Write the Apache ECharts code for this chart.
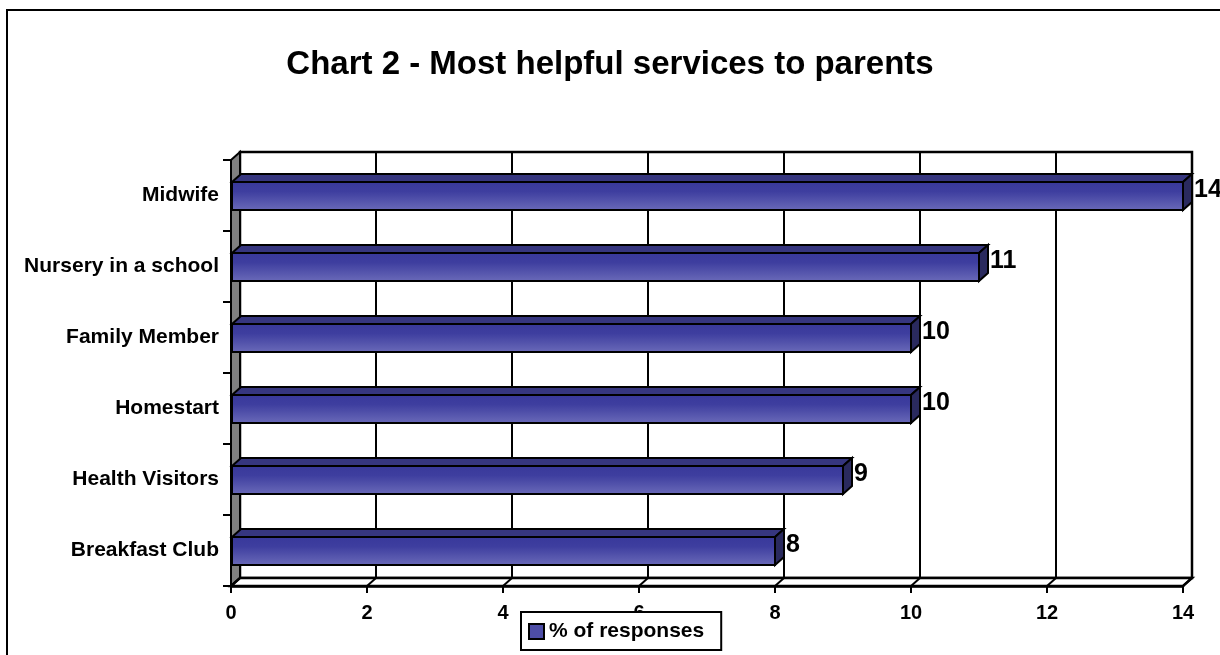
<!DOCTYPE html>
<html>
<head>
<meta charset="utf-8">
<script src="https://cdn.jsdelivr.net/npm/echarts@6/dist/echarts.min.js"></script>
<style>
html,body{margin:0;padding:0;background:#fff;}
#chart{width:1220px;height:655px;}
</style>
</head>
<body>
<div id="chart"></div>
<script>
const categories = ['Midwife', 'Nursery in a school', 'Family Member', 'Homestart', 'Health Visitors', 'Breakfast Club'];
const values = [14, 11, 10, 10, 9, 8];
const xTicks = [0, 2, 4, 6, 8, 10, 12, 14];
const seriesName = '% of responses';
const titleText = 'Chart 2 - Most helpful services to parents';

const DX = 9, DY = -8;
const FONT = 'Arial, "Liberation Sans", sans-serif';

const chart = echarts.init(document.getElementById('chart'), null, {renderer: 'canvas'});

function wallsRender(params, api) {
  const cs = params.coordSys;
  const x0 = cs.x, x1 = cs.x + cs.width, yT = cs.y, yB = cs.y + cs.height;
  const children = [];
  children.push({type: 'rect', shape: {x: x0 + DX, y: yT + DY, width: cs.width, height: cs.height},
    style: {fill: '#fff', stroke: '#000', lineWidth: 2.5}});
  xTicks.forEach(v => {
    const x = api.coord([v, 0])[0] + DX;
    children.push({type: 'line', shape: {x1: x, y1: yT + DY, x2: x, y2: yB + DY}, style: {stroke: '#000', lineWidth: 2}});
  });
  children.push({type: 'polygon', shape: {points: [[x0, yT], [x0 + DX, yT + DY], [x0 + DX, yB + DY], [x0, yB]]},
    style: {fill: '#808080', stroke: '#000', lineWidth: 2}});
  children.push({type: 'polygon', shape: {points: [[x0, yB], [x1, yB], [x1 + DX, yB + DY], [x0 + DX, yB + DY]]},
    style: {fill: '#fff', stroke: '#000', lineWidth: 2.5}});
  xTicks.forEach(v => {
    const x = api.coord([v, 0])[0];
    children.push({type: 'line', shape: {x1: x, y1: yB, x2: x + DX, y2: yB + DY}, style: {stroke: '#000', lineWidth: 2}});
  });
  return {type: 'group', children: children};
}

function barRender(params, api) {
  const v = api.value(0), idx = api.value(1);
  const c0 = api.coord([0, idx]);
  const c1 = api.coord([v, idx]);
  const cy = c0[1];
  const xa = c0[0] + 1, xb = c1[0];
  const yt = cy - 13.5, yb = cy + 14.5;
  return {type: 'group', children: [
    {type: 'polygon', shape: {points: [[xa, yt], [xb, yt], [xb + DX, yt + DY], [xa + DX, yt + DY]]},
      style: {fill: '#36367f', stroke: '#000', lineWidth: 2}},
    {type: 'polygon', shape: {points: [[xb, yt], [xb + DX, yt + DY], [xb + DX, yb + DY], [xb, yb]]},
      style: {fill: '#2a2a5e', stroke: '#000', lineWidth: 2}},
    {type: 'rect', shape: {x: xa, y: yt, width: xb - xa, height: yb - yt},
      style: {fill: new echarts.graphic.LinearGradient(0, 0, 0, 1, [
        {offset: 0, color: '#38389a'}, {offset: 0.35, color: '#3e3e9f'}, {offset: 1, color: '#6b6bb9'}]),
        stroke: '#000', lineWidth: 2}},
    {type: 'text', x: xb + DX + 2, y: cy - 5,
      style: {text: String(v), fill: '#000', font: 'bold 25px ' + FONT, align: 'left', verticalAlign: 'middle'}}
  ]};
}

const option = {
  animation: false,
  backgroundColor: '#fff',
  title: {text: titleText, left: 'center', top: 43,
    textStyle: {fontFamily: FONT, fontWeight: 'bold', fontSize: 33, color: '#000'}},
  grid: {left: 231, right: 37, top: 160, bottom: 69, containLabel: false},
  legend: {
    left: 521, top: 612, orient: 'horizontal',
    backgroundColor: '#fff', borderColor: '#000', borderWidth: 2,
    padding: [9, 17, 8, 7], itemWidth: 15, itemHeight: 15, itemGap: 5,
    textStyle: {fontFamily: FONT, fontWeight: 'bold', fontSize: 21, color: '#000'},
    data: [{name: seriesName, icon: 'rect', itemStyle: {color: '#4d4da6', borderColor: '#000', borderWidth: 2}}],
    z: 10
  },
  xAxis: {
    type: 'value', min: 0, max: 14, interval: 2,
    axisLine: {show: true, lineStyle: {color: '#000', width: 2.5}},
    axisTick: {show: true, length: 7, lineStyle: {color: '#000', width: 2}},
    splitLine: {show: false},
    axisLabel: {margin: 17, fontFamily: FONT, fontWeight: 'bold', fontSize: 20, color: '#000'}
  },
  yAxis: {
    type: 'category', inverse: true, data: categories,
    axisLine: {show: true, lineStyle: {color: '#000', width: 2}},
    axisTick: {show: true, length: 8, lineStyle: {color: '#000', width: 2}},
    axisLabel: {margin: 12, fontFamily: FONT, fontWeight: 'bold', fontSize: 21, color: '#000'}
  },
  graphic: [{type: 'rect', shape: {x: 7, y: 10, width: 1400, height: 800},
    style: {fill: 'none', stroke: '#000', lineWidth: 2}, z: 100, silent: true}],
  series: [
    {type: 'custom', name: 'walls', renderItem: wallsRender, data: [[0, 0]], z: 1, silent: true, tooltip: {show: false}},
    {type: 'custom', name: seriesName, renderItem: barRender,
      itemStyle: {color: '#4d4da6', borderColor: '#000', borderWidth: 2},
      encode: {x: 0, y: 1},
      data: values.map((v, i) => [v, i]), z: 3}
  ]
};
chart.setOption(option);
</script>
</body>
</html>
